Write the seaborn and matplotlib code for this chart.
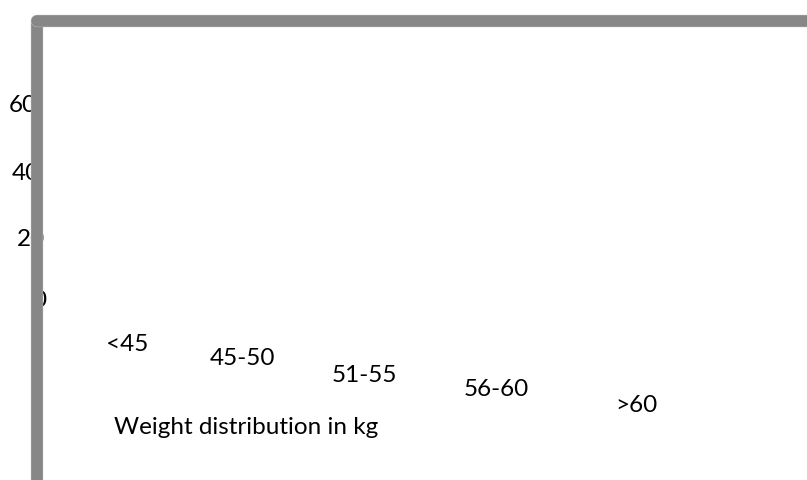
import numpy as np
import pandas as pd
import matplotlib
matplotlib.use('Agg')
import matplotlib.pyplot as plt
import matplotlib.transforms as mtransforms
import matplotlib.patheffects as pe
import seaborn as sns

# Weight distribution chart - the original shows only the frame and labels, no bars
weight_groups = ['<45', '45-50', '51-55', '56-60', '>60']
counts = [0, 0, 0, 0, 0]
y_ticks = [0, 20, 40, 60]

sns.set_style('white')
plt.rcParams['font.family'] = ['Lato', 'DejaVu Sans']

df = pd.DataFrame({'weight': weight_groups, 'count': counts})

W, H = 807, 481
fig = plt.figure(figsize=(W / 100, H / 100), dpi=100)
left_px, top_px = 36.7, 22
ax = fig.add_axes([left_px / W, 0, 1 - left_px / W, (H - top_px) / H])
sns.barplot(data=df, x='weight', y='count', ax=ax, color='white', linewidth=0)

# scales: category 0 at x=127px, step 127.25px; value 0 at y=298.5px, 3.258px per unit
step = 127.25
ax.set_xlim(-(127 - left_px) / step, 4 + (W - 636) / step)
ax.set_ylim((298.5 - H) / 3.258, (298.5 - top_px) / 3.258)
ax.set_yticks(y_ticks)
ax.set_xticks(range(len(weight_groups)))
ax.set_xticklabels(weight_groups)
ax.set_ylabel('')
ax.set_xlabel('Weight distribution in kg', fontsize=17.5, va='center', color='black')
ax.xaxis.set_label_coords((246 - left_px) / (W - left_px), (H - 428) / (H - top_px))

for s in ['left', 'top']:
    sp = ax.spines[s]
    sp.set_visible(True)
    sp.set_color('#878787')
    sp.set_linewidth(8.3)
    sp.set_capstyle('round')
    sp.set_zorder(5)
    sp.set_path_effects([pe.Stroke(linewidth=8.9, foreground='#c4c4c4'), pe.Normal()])
ax.spines['right'].set_visible(False)
ax.spines['bottom'].set_position(('axes', (H - 344.5) / (H - top_px)))
ax.spines['bottom'].set_color('none')

ax.tick_params(axis='both', length=0, labelsize=17.5, colors='black')
ax.tick_params(axis='x', pad=0)
ax.tick_params(axis='y', pad=0)

# staircase placement of the labels (pixels)
x_dx = [0, -12.25, -17.5, -12.25, 0]
x_dy = [0, -13.7, -30.5, -45, -60.5]
for lab, dx, dy in zip(ax.get_xticklabels(), x_dx, x_dy):
    lab.set_va('center')
    lab.set_transform(lab.get_transform() + mtransforms.ScaledTranslation(dx / 100, dy / 100, fig.dpi_scale_trans))

y_dx = [10, 8.4, 3.7, 0]
y_dy = [0, -3.7, -3.5, 0]
for lab, dx, dy in zip(ax.get_yticklabels(), y_dx, y_dy):
    lab.set_transform(lab.get_transform() + mtransforms.ScaledTranslation(dx / 100, dy / 100, fig.dpi_scale_trans))

fig.savefig('out.png', dpi=100)
